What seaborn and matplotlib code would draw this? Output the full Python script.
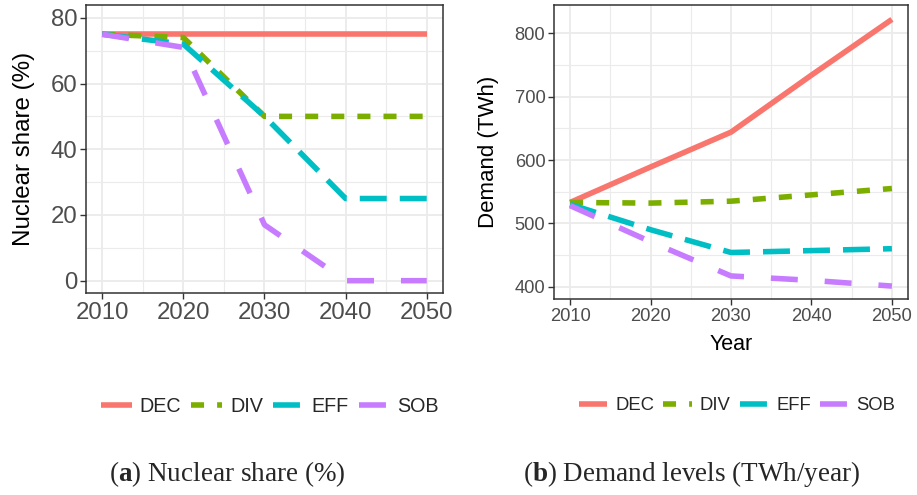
import matplotlib
matplotlib.use("Agg")
import numpy as np
import pandas as pd
import seaborn as sns
import matplotlib.pyplot as plt
from matplotlib.ticker import MultipleLocator

# ---- data ----
years = [2010, 2020, 2030, 2040, 2050]
scenarios = ["DEC", "DIV", "EFF", "SOB"]
nuclear_dec = [75, 75, 75, 75, 75]
nuclear_div = [75, 74, 50, 50, 50]
nuclear_eff = [75, 72, 50, 25, 25]
nuclear_sob = [75, 71, 17, 0, 0]
demand_dec = [533, 589, 644, 734, 822]
demand_div = [533, 532, 535, 545, 555]
demand_eff = [530, 490, 454, 457, 460]
demand_sob = [528, 471, 417, 410, 401]
x_ticks = [2010, 2020, 2030, 2040, 2050]
nuclear_ticks = [0, 20, 40, 60, 80]
demand_ticks = [400, 500, 600, 700, 800]
caption_a = r"$(\mathbf{a})$ Nuclear share (%)"
caption_b = r"$(\mathbf{b})$ Demand levels (TWh/year)"

def long_df(series):
    rows = []
    for sc, vals in zip(scenarios, series):
        for y, v in zip(years, vals):
            rows.append({"year": y, "value": v, "scenario": sc})
    return pd.DataFrame(rows)

df_n = long_df([nuclear_dec, nuclear_div, nuclear_eff, nuclear_sob])
df_d = long_df([demand_dec, demand_div, demand_eff, demand_sob])

# ---- style ----
sns.set_theme(style="white")
plt.rcParams["font.family"] = ["Liberation Sans", "DejaVu Sans"]
plt.rcParams["lines.scale_dashes"] = False
plt.rcParams["mathtext.fontset"] = "custom"
plt.rcParams["mathtext.rm"] = "Liberation Serif"
plt.rcParams["mathtext.bf"] = "Liberation Serif:bold"

palette = {"DEC": "#F8766D", "DIV": "#7CAE00", "EFF": "#00BFC4", "SOB": "#C77CFF"}
dash_map = {"DEC": "", "DIV": (9.4, 9.4), "EFF": (19.4, 9.4), "SOB": (19.4, 19.4)}
LW = 4.0

W, H = 917, 495
fig = plt.figure(figsize=(W / 100, H / 100), dpi=100)

def px_axes(x0, y0, x1, y1):
    return fig.add_axes([x0 / W, 1 - y1 / H, (x1 - x0) / W, (y1 - y0) / H])

ax1 = px_axes(86, 5, 443, 293)
ax2 = px_axes(554, 5, 908, 299)

def style_axes(ax, yt, ymin, ymax, yminor, tick_fs):
    ax.set_facecolor("white")
    for s in ax.spines.values():
        s.set_color("#333333")
        s.set_linewidth(1.1)
        s.set_visible(True)
    ax.set_xlim(2008, 2052)
    ax.set_ylim(ymin, ymax)
    ax.set_xticks(x_ticks)
    ax.set_yticks(yt)
    ax.xaxis.set_minor_locator(MultipleLocator(5))
    ax.yaxis.set_minor_locator(MultipleLocator(yminor))
    ax.grid(which="major", color="#EBEBEB", lw=1.3)
    ax.grid(which="minor", color="#EBEBEB", lw=0.8)
    ax.set_axisbelow(True)
    ax.tick_params(which="major", length=4.3, width=1.0, color="#333333",
                   labelsize=tick_fs, labelcolor="#4D4D4D", pad=2,
                   bottom=True, left=True)
    ax.tick_params(which="minor", length=0)

for ax, df in [(ax1, df_n), (ax2, df_d)]:
    sns.lineplot(data=df, x="year", y="value", hue="scenario", style="scenario",
                 palette=palette, dashes=dash_map, lw=LW, ax=ax,
                 solid_capstyle="butt", dash_capstyle="butt", legend=True)

style_axes(ax1, nuclear_ticks, -3.75, 83.9, 10, 17.3)
style_axes(ax2, demand_ticks, 380.6, 844.7, 50, 13.2)

ax1.set_xlabel("")
ax1.set_ylabel("Nuclear share (%)", fontsize=17.4, color="black", labelpad=11)
ax2.set_xlabel("Year", fontsize=15.5, color="black", labelpad=7)
ax2.set_ylabel("Demand (TWh)", fontsize=16, color="black", labelpad=11)

# legends below each panel
for ax, cx, fs in [(ax1, 270, 14.2), (ax2, 737, 13.3)]:
    h, l = ax.get_legend_handles_labels()
    ax.get_legend().remove()
    for hh in h:
        hh.set_linewidth(LW)
        hh.set_solid_capstyle("butt")
        hh.set_dash_capstyle("butt")
    fig.legend(h, l, loc="center", bbox_to_anchor=(cx / W, 1 - 406 / H), ncol=4,
               frameon=False, fontsize=fs, handlelength=1.55, handletextpad=0.42,
               columnspacing=0.5, borderaxespad=0, borderpad=0)

fig.text(227 / W, 1 - 474 / H, caption_a, ha="center", va="center",
         fontsize=19.5, family="Liberation Serif")
fig.text(692 / W, 1 - 474 / H, caption_b, ha="center", va="center",
         fontsize=19.5, family="Liberation Serif")

fig.savefig("out.png", dpi=100, facecolor="white")
